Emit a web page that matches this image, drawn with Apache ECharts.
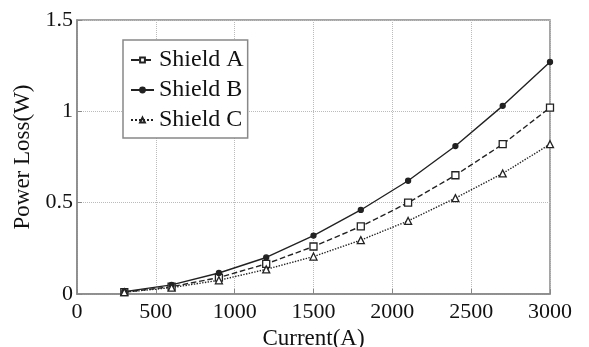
<!DOCTYPE html>
<html>
<head>
<meta charset="utf-8">
<script src="https://cdn.jsdelivr.net/npm/echarts@6/dist/echarts.min.js"></script>
<style>
  html, body { margin: 0; padding: 0; background: #fff; }
  #chart { width: 589px; height: 347px; }
</style>
</head>
<body>
<div id="chart"></div>
<script>
// current (A)
const current = [300, 600, 900, 1200, 1500, 1800, 2100, 2400, 2700, 3000];
// power loss (W)
const shieldA = [0.01, 0.04, 0.09, 0.165, 0.26, 0.37, 0.50, 0.65, 0.82, 1.02];
const shieldB = [0.013, 0.05, 0.115, 0.20, 0.32, 0.46, 0.62, 0.81, 1.03, 1.27];
const shieldC = [0.01, 0.035, 0.075, 0.135, 0.205, 0.295, 0.40, 0.525, 0.66, 0.82];

const font = 'Liberation Serif';
const pairs = (ys) => current.map((x, i) => [x, ys[i]]);

const chart = echarts.init(document.getElementById('chart'));

const makeSeries = (name, ys, symbol, size, lineType, filled) => ({
  name: name,
  type: 'line',
  data: pairs(ys),
  symbol: symbol,
  symbolSize: size,
  showSymbol: true,
  lineStyle: { color: '#222', width: 1.4, type: lineType },
  itemStyle: { color: filled ? '#222' : '#fff', borderColor: '#222', borderWidth: 1.3 },
  emphasis: { disabled: true }
});

chart.setOption({
  animation: false,
  backgroundColor: '#fff',
  grid: {
    left: 77, right: 39, top: 20, bottom: 53,
    outerBoundsMode: 'none',
    containLabel: false,
    show: true, borderColor: '#888', borderWidth: 1.5
  },
  legend: {
    orient: 'vertical',
    left: 123, top: 40,
    padding: [8, 4, 6, 7],
    itemGap: 6,
    itemWidth: 23,
    itemHeight: 6,
    borderColor: '#888',
    borderWidth: 1.5,
    backgroundColor: '#fff',
    textStyle: { fontFamily: font, fontSize: 24, color: '#111' },
    data: ['Shield A', 'Shield B', 'Shield C']
  },
  xAxis: {
    type: 'value',
    min: 0, max: 3000, interval: 500,
    name: 'Current(A)',
    nameLocation: 'middle',
    nameGap: 32,
    nameTextStyle: { fontFamily: font, fontSize: 23, color: '#111' },
    axisLine: { show: true, lineStyle: { color: '#888', width: 1.5 } },
    axisTick: { show: true, inside: true, length: 5, lineStyle: { color: '#888' } },
    axisLabel: { fontFamily: font, fontSize: 22, color: '#111', margin: 7, formatter: (v) => String(v) },
    splitLine: { show: true, lineStyle: { color: '#bbb', type: 'dotted', width: 1 } }
  },
  yAxis: {
    type: 'value',
    min: 0, max: 1.5, interval: 0.5,
    name: 'Power Loss(W)',
    nameLocation: 'middle',
    nameGap: 40,
    nameTextStyle: { fontFamily: font, fontSize: 23, color: '#111' },
    axisLine: { show: true, lineStyle: { color: '#888', width: 1.5 } },
    axisTick: { show: true, inside: true, length: 5, lineStyle: { color: '#888' } },
    axisLabel: { fontFamily: font, fontSize: 22, color: '#111', margin: 4, formatter: (v) => String(v) },
    splitLine: { show: true, lineStyle: { color: '#bbb', type: 'dotted', width: 1 } }
  },
  series: [
    makeSeries('Shield A', shieldA, 'rect', 7, 'dashed', false),
    makeSeries('Shield B', shieldB, 'circle', 5, 'solid', true),
    makeSeries('Shield C', shieldC, 'triangle', 7, 'dotted', false)
  ]
});
</script>
</body>
</html>
